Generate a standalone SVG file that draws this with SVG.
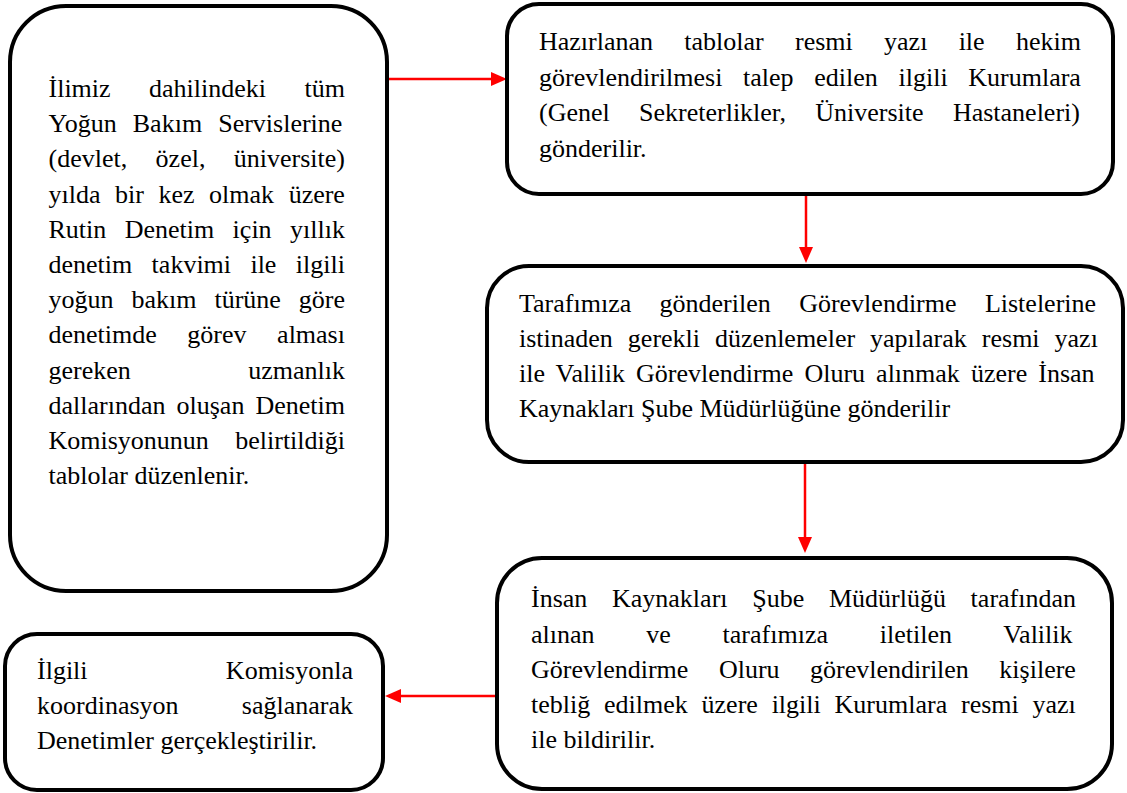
<svg xmlns="http://www.w3.org/2000/svg" width="1127" height="793" viewBox="0 0 1127 793">
  <style>
    .box { fill: #ffffff; stroke: #000000; stroke-width: 4; }
    .txt { font-family: "Liberation Serif", "Times New Roman", serif; font-size: 26px; fill: #000000; }
    .link { fill: none; stroke: #ff0000; stroke-width: 2.5; }
  </style>
  <defs>
    <marker id="head" markerUnits="userSpaceOnUse" markerWidth="16" markerHeight="14" refX="10" refY="7" orient="auto">
      <path d="M0,0 L16,7 L0,14 z" fill="#ff0000"/>
    </marker>
  </defs>

  <rect width="1127" height="793" fill="#ffffff"/>

  <!-- connectors -->
  <g id="connectors">
    <path class="link" d="M389,79 H501" marker-end="url(#head)"/>
    <path class="link" d="M806,196 V257" marker-end="url(#head)"/>
    <path class="link" d="M805,464 V547" marker-end="url(#head)"/>
    <path class="link" d="M495,696 H391" marker-end="url(#head)"/>
  </g>

  <!-- left column: annual schedule preparation -->
  <g id="node-tables">
    <rect class="box" x="10" y="6" width="377" height="585" rx="56" ry="56"/>
    <text class="txt">
      <tspan x="48.5" y="97" word-spacing="31.95">İlimiz dahilindeki tüm</tspan>
      <tspan x="48.5" y="132.2" word-spacing="9.6">Yoğun Bakım Servislerine</tspan>
      <tspan x="48.5" y="167.4" word-spacing="21.9">(devlet, özel, üniversite)</tspan>
      <tspan x="48.5" y="202.6" word-spacing="8.05">yılda bir kez olmak üzere</tspan>
      <tspan x="48.5" y="237.8" word-spacing="11.9">Rutin Denetim için yıllık</tspan>
      <tspan x="48.5" y="273" word-spacing="12.87">denetim takvimi ile ilgili</tspan>
      <tspan x="48.5" y="308.2" word-spacing="11.46">yoğun bakım türüne göre</tspan>
      <tspan x="48.5" y="343.4" word-spacing="24.05">denetimde görev alması</tspan>
      <tspan x="48.5" y="378.6" word-spacing="110.9">gereken uzmanlık</tspan>
      <tspan x="48.5" y="413.8" word-spacing="4.55">dallarından oluşan Denetim</tspan>
      <tspan x="48.5" y="449" word-spacing="19.9">Komisyonunun belirtildiği</tspan>
      <tspan x="48.5" y="484.2">tablolar düzenlenir.</tspan>
    </text>
  </g>

  <!-- request sent to institutions -->
  <g id="node-request">
    <rect class="box" x="507" y="4" width="606" height="190" rx="32" ry="32"/>
    <text class="txt">
      <tspan x="539" y="50" word-spacing="24.78">Hazırlanan tablolar resmi yazı ile hekim</tspan>
      <tspan x="539" y="85.5" word-spacing="14.18">görevlendirilmesi talep edilen ilgili Kurumlara</tspan>
      <tspan x="539" y="121" word-spacing="22.8">(Genel Sekreterlikler, Üniversite Hastaneleri)</tspan>
      <tspan x="539" y="156.5">gönderilir.</tspan>
    </text>
  </g>

  <!-- assignment lists forwarded to HR -->
  <g id="node-lists">
    <rect class="box" x="487" y="266" width="636" height="196" rx="42" ry="42"/>
    <text class="txt">
      <tspan x="519" y="312" word-spacing="21.87">Tarafımıza gönderilen Görevlendirme Listelerine</tspan>
      <tspan x="519" y="347" word-spacing="8.5">istinaden gerekli düzenlemeler yapılarak resmi yazı</tspan>
      <tspan x="519" y="382" word-spacing="4.55">ile Valilik Görevlendirme Oluru alınmak üzere İnsan</tspan>
      <tspan x="519" y="417">Kaynakları Şube Müdürlüğüne gönderilir</tspan>
    </text>
  </g>

  <!-- approval notified to institutions -->
  <g id="node-approval">
    <rect class="box" x="497" y="558" width="615" height="231" rx="45" ry="45"/>
    <text class="txt">
      <tspan x="531" y="607" word-spacing="18.2">İnsan Kaynakları Şube Müdürlüğü tarafından</tspan>
      <tspan x="531" y="642.5" word-spacing="45.26">alınan ve tarafımıza iletilen Valilik</tspan>
      <tspan x="531" y="678" word-spacing="24.0">Görevlendirme Oluru görevlendirilen kişilere</tspan>
      <tspan x="531" y="713" word-spacing="7.3">tebliğ edilmek üzere ilgili Kurumlara resmi yazı</tspan>
      <tspan x="531" y="748">ile bildirilir.</tspan>
    </text>
  </g>

  <!-- inspections carried out -->
  <g id="node-inspection">
    <rect class="box" x="5" y="634" width="378" height="156" rx="32" ry="32"/>
    <text class="txt">
      <tspan x="37" y="679" word-spacing="131.8">İlgili Komisyonla</tspan>
      <tspan x="37" y="714" word-spacing="56.8">koordinasyon sağlanarak</tspan>
      <tspan x="37" y="749">Denetimler gerçekleştirilir.</tspan>
    </text>
  </g>
</svg>
